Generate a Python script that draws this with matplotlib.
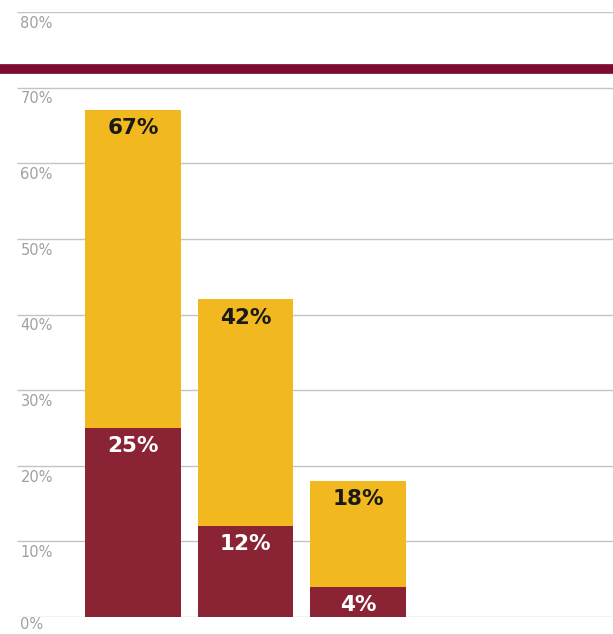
import matplotlib.pyplot as plt

# values (percent)
groups = ["A", "B", "C"]
totals = [67, 42, 18]
lower = [25, 12, 4]
ticks = [0, 10, 20, 30, 40, 50, 60, 70, 80]
tick_labels = ["0%", "10%", "20%", "30%", "40%", "50%", "60%", "70%", "80%"]

yellow = "#f1b81f"
maroon = "#8a2435"

fig = plt.figure(figsize=(6.13, 6.34), dpi=100)
ax = fig.add_axes([0, 17 / 634, 1, (634 - 12 - 17) / 634])
ax.set_xlim(-1.182, 4.267)
ax.set_ylim(0, 80)
ax.axis("off")

# gridlines + labels sitting just under each line
for t, lab in zip(ticks, tick_labels):
    ax.hlines(t, -1.03, 4.267, color="#c4c4c4", lw=1.0, zorder=0)
    off = 1.0 if t == 0 else 1.5  # keep the bottom label inside the figure
    ax.text(-1.0, t - off, lab, color="#a0a0a0", fontsize=10.5,
            ha="left", va="center")

# separator band from the page layout
ax.axhline(72.5, color="#7d0a30", lw=7, zorder=1)

x = list(range(len(groups)))
upper = [t - l for t, l in zip(totals, lower)]
ax.bar(x, lower, width=0.85, color=maroon, zorder=2)
ax.bar(x, upper, bottom=lower, width=0.85, color=yellow, zorder=2)

for i in x:
    ax.text(i, totals[i] - 2.4, f"{totals[i]}%", ha="center", va="center",
            fontsize=15.5, fontweight="bold", color="#1a1a1a", zorder=3)
    ax.text(i, lower[i] - 2.4, f"{lower[i]}%", ha="center", va="center",
            fontsize=15.5, fontweight="bold", color="white", zorder=3)

fig.savefig("out.png", dpi=100)
